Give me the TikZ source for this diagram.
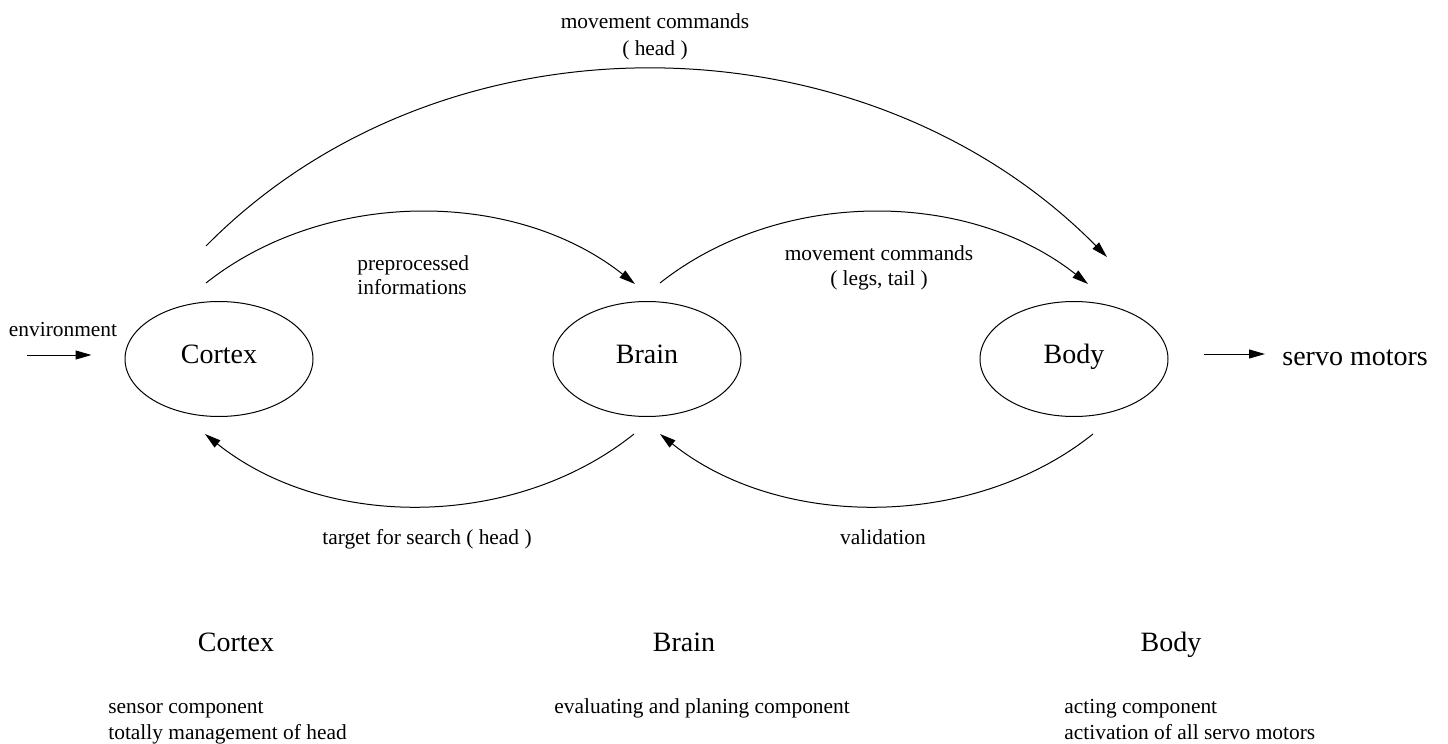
\documentclass[tikz,border=0pt]{standalone}
\usepackage{fontspec}
\setmainfont{Liberation Serif}
\usetikzlibrary{arrows.meta,calc,shapes.geometric}

\begin{document}
\begin{tikzpicture}[x=0.5pt,y=-0.5pt,
    part/.style={ellipse,draw,line width=0.5pt,minimum width=94pt,minimum height=57.5pt,
        inner sep=0pt,text depth=5pt,font=\fontsize{14}{16}\selectfont},
    flow/.style={line width=0.5pt,-{Triangle[length=8pt,width=4.5pt]}},
    small/.style={font=\fontsize{10.7}{12.5}\selectfont,inner sep=0pt},
    big/.style={font=\fontsize{14}{16}\selectfont,inner sep=0pt}]

\useasboundingbox (0,0) rectangle (1448,744);

% Components
\node[part] (cortex) at (219,359) {Cortex};
\node[part] (brain) at (647,359) {Brain};
\node[part] (body) at (1074,359) {Body};

% Input and output
\node[small,anchor=base] (env) at (63,336) {environment};
\coordinate (envin) at (27,355);
\draw[flow] (envin) -- ($(cortex.west)+(-33,-4)$);

\node[big,anchor=base west] (servo) at (1282,365) {servo motors};
\draw[flow] ($(body.east)+(35,-5)$) -- ($(servo.base west)+(-17,-11)$);

% Forward flow
\draw[flow] ($(cortex.north)+(-13,-55)$) .. controls +(240,-243) and +(-240,-243) .. ($(body.north)+(33,-44)$);
\draw[flow] ($(cortex.north)+(-13,-18)$) .. controls +(120,-95) and +(-120,-95) .. ($(brain.north)+(-12,-17)$);
\draw[flow] ($(brain.north)+(13,-18)$) .. controls +(120,-95) and +(-120,-95) .. ($(body.north)+(14,-17)$);

% Feedback
\draw[flow] ($(brain.south)+(-13,17)$) .. controls +(-120,96) and +(120,96) .. ($(cortex.south)+(-14,17)$);
\draw[flow] ($(body.south)+(19,17)$) .. controls +(-120,96) and +(120,96) .. ($(brain.south)+(13,17)$);

% Labels (base = last line)
\node[small,anchor=base,align=center] (headcmd) at (655,55) {movement commands\\[1pt]( head )};
\node[small,anchor=base west,align=left] (prep) at (357,294) {preprocessed\\[-0.5pt]informations};
\node[small,anchor=base,align=center] (legcmd) at (879,285) {movement commands\\( legs, tail )};
\node[small,anchor=base] (target) at (427,544) {target for search ( head )};
\node[small,anchor=base] (valid) at (883,544) {validation};

% Legend
\node[big,anchor=base] (cortextitle) at (236,651) {Cortex};
\node[big,anchor=base] (braintitle) at (684,651) {Brain};
\node[big,anchor=base] (bodytitle) at (1171,651) {Body};
\node[small,anchor=base west,align=left] (cortexdesc) at (108,739) {sensor component\\[0.5pt]totally management of head};
\node[small,anchor=base west] (braindesc) at (554,713) {evaluating and planing component};
\node[small,anchor=base west,align=left] (bodydesc) at (1064,739) {acting component\\[0.5pt]activation of all servo motors};

\end{tikzpicture}
\end{document}
